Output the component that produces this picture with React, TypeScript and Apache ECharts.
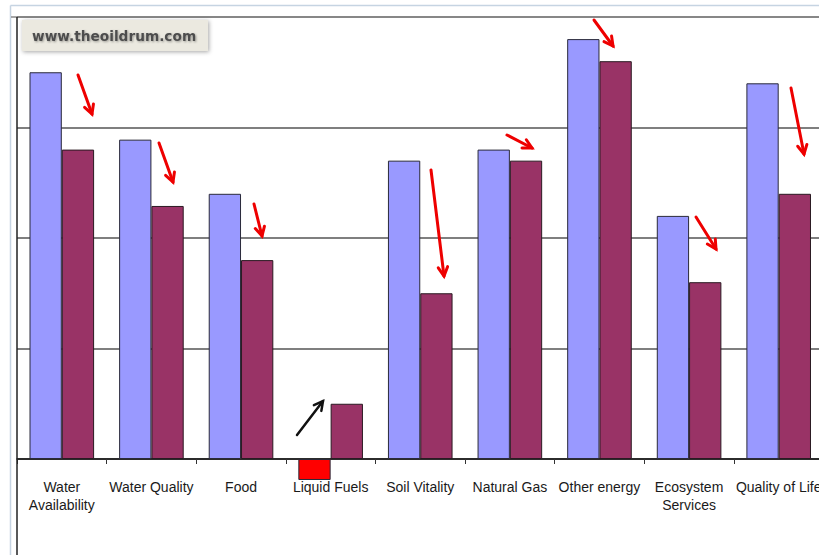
import React, { useEffect, useRef } from "react";
import * as echarts from "echarts";

const categories = [
  "Water\nAvailability",
  "Water Quality",
  "Food",
  "Liquid Fuels",
  "Soil Vitality",
  "Natural Gas",
  "Other energy",
  "Ecosystem\nServices",
  "Quality of Life",
];
const beforeValues = [3.5, 2.89, 2.4, -0.19, 2.7, 2.8, 3.8, 2.2, 3.4];
const afterValues = [2.8, 2.29, 1.8, 0.5, 1.5, 2.7, 3.6, 1.6, 2.4];
const negativeIndex = 3;
const watermark = "www.theoildrum.com";

// annotation arrows (start -> tip), pixel space
const redArrows: number[][] = [
  [78, 75, 92, 114],
  [159, 143, 173, 182],
  [254, 204, 262, 236],
  [431, 170, 444, 276],
  [507, 135, 532, 148],
  [594, 20, 613, 46],
  [696, 217, 716, 249],
  [791, 88, 804, 154],
];
const blackArrows: number[][] = [[297, 435, 323, 401]];

function arrow(a: number[], color: string, width: number) {
  const [x1, y1, x2, y2] = a;
  const dx = x2 - x1;
  const dy = y2 - y1;
  const len = Math.sqrt(dx * dx + dy * dy);
  const ux = dx / len;
  const uy = dy / len;
  const L = 10;
  const ang = (28 * Math.PI) / 180;
  const rot = (s: number) => [
    x2 - L * (ux * Math.cos(s * ang) - uy * Math.sin(s * ang)),
    y2 - L * (ux * Math.sin(s * ang) + uy * Math.cos(s * ang)),
  ];
  return [
    {
      type: "line",
      shape: { x1, y1, x2, y2 },
      style: { stroke: color, lineWidth: width, lineCap: "round" },
      z: 100,
    },
    {
      type: "polyline",
      shape: { points: [rot(1), [x2, y2], rot(-1)] },
      style: { stroke: color, lineWidth: width, fill: null, lineJoin: "miter", lineCap: "round" },
      z: 100,
    },
  ];
}

export default function App() {
  const ref = useRef<HTMLDivElement>(null);
  useEffect(() => {
    if (!ref.current) return;
    const chart = echarts.init(ref.current, null, { renderer: "svg" });
    const before = beforeValues.map((v, i) =>
      i === negativeIndex ? { value: v, itemStyle: { color: "#ff0000" } } : v
    );
    const graphics: any[] = [
      { type: "line", shape: { x1: 10.5, y1: 5.5, x2: 819, y2: 5.5 }, style: { stroke: "#c6d4e2", lineWidth: 1.5 }, z: 50 },
      { type: "line", shape: { x1: 10.5, y1: 5.5, x2: 10.5, y2: 555 }, style: { stroke: "#c6d4e2", lineWidth: 1.5 }, z: 50 },
      { type: "line", shape: { x1: 11, y1: 17, x2: 819, y2: 17 }, style: { stroke: "#8a8a8a", lineWidth: 1.5 }, z: 50 },
      { type: "line", shape: { x1: 17, y1: 17, x2: 17, y2: 555 }, style: { stroke: "#222", lineWidth: 1.5 }, z: 50 },
      {
        type: "rect",
        shape: { x: 22, y: 20, width: 186, height: 31 },
        style: { fill: "#ebe9e0", shadowColor: "rgba(0,0,0,0.35)", shadowBlur: 4, shadowOffsetX: 1, shadowOffsetY: 1 },
        z: 60,
      },
      {
        type: "text",
        x: 32,
        y: 36,
        style: {
          text: watermark,
          font: "bold 13.7px 'DejaVu Sans'",
          fill: "#4d4d4d",
          textVerticalAlign: "middle",
          verticalAlign: "middle",
          textShadowColor: "rgba(0,0,0,0.35)",
          textShadowBlur: 2,
          textShadowOffsetX: 1,
          textShadowOffsetY: 1,
        },
        z: 61,
      },
    ];
    redArrows.forEach((a) => graphics.push(...arrow(a, "#ee0000", 3)));
    blackArrows.forEach((a) => graphics.push(...arrow(a, "#111111", 2.5)));

    chart.setOption({
      animation: false,
      backgroundColor: "#ffffff",
      grid: { left: 17, top: 17, width: 806.5, bottom: 96, containLabel: false, outerBoundsMode: "none" },
      xAxis: {
        type: "category",
        data: categories,
        axisLine: { show: true, lineStyle: { color: "#111", width: 1.5 } },
        axisTick: { show: true, length: 5, lineStyle: { color: "#333", width: 1 } },
        axisLabel: {
          interval: 0,
          margin: 19,
          fontSize: 14,
          lineHeight: 18,
          fontFamily: "Liberation Sans",
          color: "#1a1a1a",
        },
      },
      yAxis: {
        type: "value",
        min: 0,
        max: 4,
        interval: 1,
        axisLine: { show: false },
        axisTick: { show: false },
        axisLabel: { show: false },
        splitLine: { show: true, lineStyle: { color: "#555", width: 1.5 } },
      },
      series: [
        {
          type: "bar",
          data: before,
          barWidth: 32.3,
          barGap: "0%",
          clip: false,
          itemStyle: { color: "#9999ff", borderColor: "#2a2a3a", borderWidth: 1 },
        },
        {
          type: "bar",
          data: afterValues,
          barWidth: 32.3,
          barGap: "0%",
          clip: false,
          itemStyle: { color: "#993366", borderColor: "#2a1a22", borderWidth: 1 },
        },
      ],
      graphic: graphics,
    });
    return () => chart.dispose();
  }, []);
  return (
    <div
      ref={ref}
      style={{ position: "fixed", left: 0, top: 0, width: 819, height: 555, background: "#fff" }}
    />
  );
}
